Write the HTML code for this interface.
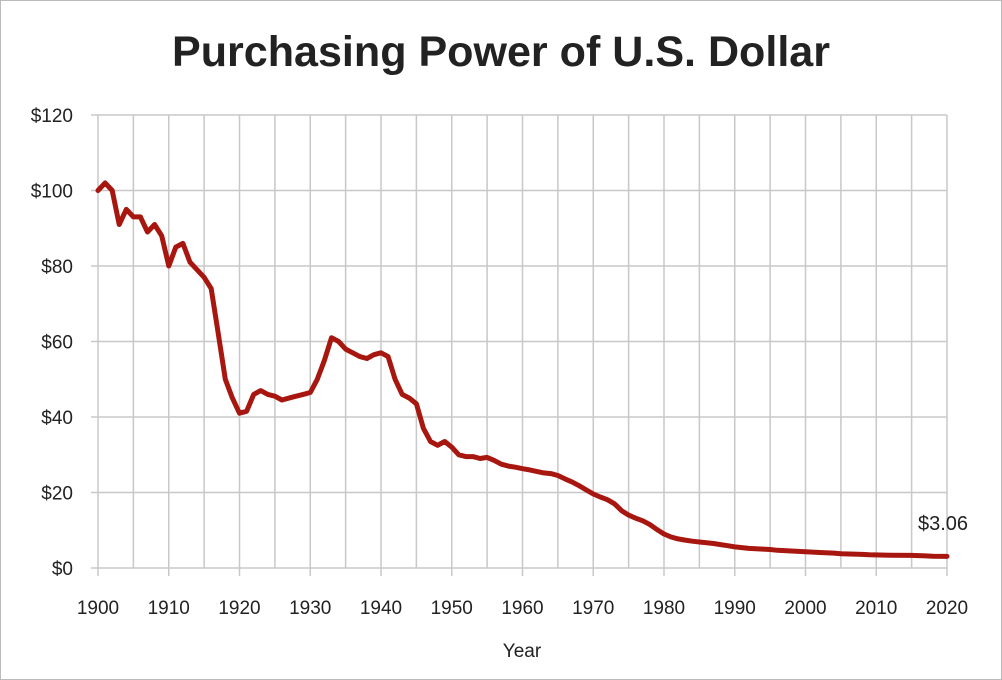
<!DOCTYPE html>
<html><head><meta charset="utf-8"><style>
html,body{margin:0;padding:0;background:#fff}
svg{display:block}
text{font-family:"Liberation Sans",sans-serif;fill:#222}
</style></head><body>
<svg id="s" width="1002" height="680" viewBox="0 0 1002 680">
<rect x="0.5" y="0.5" width="1001" height="679" fill="#fff" stroke="#bbb"/>
<text x="172" y="66" font-size="43" font-weight="bold" textLength="658" lengthAdjust="spacingAndGlyphs" fill="#111">Purchasing Power of U.S. Dollar</text>
<g id="grid" stroke="#c8c8c8" stroke-width="1.5"></g>
<g id="lbl" font-size="19"></g>
<polyline id="ln" fill="none" stroke="#a8170f" stroke-width="5" stroke-linejoin="round" stroke-linecap="round"/>
<text x="918" y="530" font-size="20" fill="#333">$3.06</text>
<text x="522" y="657" font-size="19" text-anchor="middle">Year</text>
</svg>
<script>
var X=function(y){return 98+(y-1900)*(947-98)/120};
var Y=function(v){return 568-v*(568-115)/120};
var g=document.getElementById('grid'),l=document.getElementById('lbl'),ns='http://www.w3.org/2000/svg';
function el(p,t,a,txt){var e=document.createElementNS(ns,t);for(var k in a)e.setAttribute(k,a[k]);if(txt)e.textContent=txt;p.appendChild(e);}
for(var y=1900;y<=2020;y+=5)el(g,'line',{x1:X(y),x2:X(y),y1:115,y2:y%10==0?576:568});
for(var v=0;v<=120;v+=20){el(g,'line',{x1:91,x2:947,y1:Y(v),y2:Y(v)});el(l,'text',{x:73,y:Y(v)+7,'text-anchor':'end'},'$'+v);}
for(var y=1900;y<=2020;y+=10)el(l,'text',{x:X(y),y:614,'text-anchor':'middle'},''+y);
var d=[[1900,100],[1901,102],[1902,100],[1903,91],[1904,95],[1905,93],[1906,93],[1907,89],[1908,91],[1909,88],[1910,80],[1911,85],[1912,86],[1913,81],[1914,79],[1915,77],[1916,74],[1917,62],[1918,50],[1919,45],[1920,41],[1921,41.5],[1922,46],[1923,47],[1924,46],[1925,45.5],[1926,44.5],[1927,45],[1928,45.5],[1929,46],[1930,46.5],[1931,50],[1932,55],[1933,61],[1934,60],[1935,58],[1936,57],[1937,56],[1938,55.5],[1939,56.5],[1940,57],[1941,56],[1942,50],[1943,46],[1944,45],[1945,43.5],[1946,37],[1947,33.5],[1948,32.5],[1949,33.5],[1950,32],[1951,30],[1952,29.5],[1953,29.5],[1954,29],[1955,29.3],[1956,28.5],[1957,27.5],[1958,27],[1959,26.7],[1960,26.3],[1961,26],[1962,25.6],[1963,25.2],[1964,25],[1965,24.5],[1966,23.6],[1967,22.8],[1968,21.8],[1969,20.7],[1970,19.6],[1971,18.8],[1972,18.1],[1973,17],[1974,15.2],[1975,14],[1976,13.2],[1977,12.5],[1978,11.5],[1979,10.2],[1980,9],[1981,8.2],[1982,7.7],[1983,7.4],[1984,7.1],[1985,6.9],[1986,6.7],[1987,6.5],[1988,6.2],[1989,5.9],[1990,5.6],[1991,5.4],[1992,5.2],[1993,5.1],[1994,5],[1995,4.9],[1996,4.7],[1997,4.6],[1998,4.5],[1999,4.4],[2000,4.3],[2002,4.1],[2004,3.95],[2005,3.8],[2008,3.6],[2009,3.5],[2012,3.4],[2015,3.35],[2017,3.2],[2018,3.1],[2020,3.06]];
document.getElementById('ln').setAttribute('points',d.map(function(p){return X(p[0]).toFixed(1)+','+Y(p[1]).toFixed(1)}).join(' '));
</script>
</body></html>
